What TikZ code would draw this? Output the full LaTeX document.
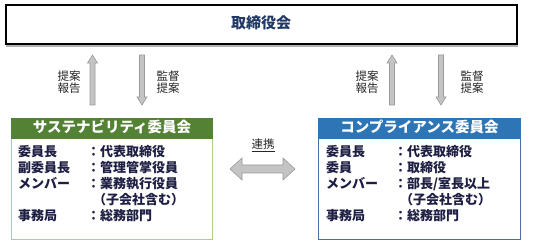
\documentclass[tikz,border=0pt]{standalone}
\usepackage{fontspec}
\setmainfont{Noto Sans CJK JP}
\usetikzlibrary{calc}
\definecolor{navy}{HTML}{1F3864}
\definecolor{bodytxt}{HTML}{1E1E44}
\definecolor{greenhead}{HTML}{548235}
\definecolor{greenline}{HTML}{A9D18E}
\definecolor{bluehead}{HTML}{2E75B6}
\definecolor{blueline}{HTML}{4A6FA0}
\definecolor{arrowfill}{HTML}{C4C4C4}
\definecolor{arrowline}{HTML}{9A9A9A}
\begin{document}
\begin{tikzpicture}[x=1pt,y=-1pt,
  txt/.style={inner sep=0pt,text height=0.88em,text depth=0.12em,font=\fontsize{13}{14}\selectfont\bfseries,text=bodytxt,anchor=west},
  lbl/.style={inner sep=0pt,align=center,font=\fontsize{11.5}{12.5}\selectfont,text=black!85},
  head/.style={inner sep=0pt,text height=0.88em,text depth=0.12em,font=\fontsize{14.5}{16}\selectfont\bfseries,text=white},
  blockarrow/.style={fill=arrowfill,draw=arrowline,line width=0.6pt,line join=miter}]
\useasboundingbox (0,0) rectangle (533,243);
% top box
\fill[black!30] (6,6) rectangle (518,47);
\node[draw=black,line width=2pt,fill=white,minimum width=511pt,minimum height=39pt,inner sep=0pt] (board) at (261,25) {};
\node[head,text=navy,font=\fontsize{15}{17}\selectfont\bfseries] (boardtxt) at (board.center) {取締役会};
% left committee
\node[draw=greenline,line width=1pt,minimum width=201pt,minimum height=121pt,inner sep=0pt,anchor=north west] (sus) at (11,118) {};
\fill[greenhead] (sus.north west) rectangle ($(sus.north east)+(0,21)$);
\node[head] (sushead) at ($(sus.north)+(0,10.5)$) {サステナビリティ委員会};
% right committee
\node[draw=blueline,line width=1pt,minimum width=202pt,minimum height=121pt,inner sep=0pt,anchor=north west] (comp) at (318,118) {};
\fill[bluehead] (comp.north west) rectangle ($(comp.north east)+(0,21)$);
\node[head] (comphead) at ($(comp.north)+(0,10.5)$) {コンプライアンス委員会};
% left body
\node[txt] (l1a) at (18,153) {委員長};
\node[txt] (l1b) at (87,153) {：代表取締役};
\node[txt] (l2a) at (18,169) {副委員長};
\node[txt] (l2b) at (87,169) {：管理管掌役員};
\node[txt] (l3a) at (18,185) {メンバー};
\node[txt] (l3b) at (87,185) {：業務執行役員};
\node[txt] (l4b) at (93,201) {（子会社含む）};
\node[txt] (l5a) at (18,217) {事務局};
\node[txt] (l5b) at (87,217) {：総務部門};
% right body
\node[txt] (r1a) at (326,153) {委員長};
\node[txt] (r1b) at (394,153) {：代表取締役};
\node[txt] (r2a) at (326,169) {委員};
\node[txt] (r2b) at (394,169) {：取締役};
\node[txt] (r3a) at (326,185) {メンバー};
\node[txt] (r3b) at (394,185) {：部長/室長以上};
\node[txt] (r4b) at (400,201) {（子会社含む）};
\node[txt] (r5a) at (326,217) {事務局};
\node[txt] (r5b) at (394,217) {：総務部門};
% vertical arrows left
\draw[blockarrow] (90,105) -- (90,63) -- (87.5,63) -- (92.5,55) -- (97.5,63) -- (95,63) -- (95,105) -- cycle;
\draw[blockarrow] (139.5,55) -- (139.5,97) -- (137,97) -- (142,105) -- (147,97) -- (144.5,97) -- (144.5,55) -- cycle;
\node[lbl] (lup) at (69,82) {提案\\[-0.5pt]報告};
\node[lbl] (ldown) at (168,82) {監督\\[-0.5pt]提案};
% vertical arrows right
\draw[blockarrow] (389.5,105) -- (389.5,63) -- (387,63) -- (392,55) -- (397,63) -- (394.5,63) -- (394.5,105) -- cycle;
\draw[blockarrow] (438.5,55) -- (438.5,97) -- (436,97) -- (441,105) -- (446,97) -- (443.5,97) -- (443.5,55) -- cycle;
\node[lbl] (rup) at (367,82) {提案\\[-0.5pt]報告};
\node[lbl] (rdown) at (472,82) {監督\\[-0.5pt]提案};
% double arrow
\draw[blockarrow] (230,169) -- (242,158) -- (242,165) -- (283,165) -- (283,158) -- (295,169) -- (283,180) -- (283,173) -- (242,173) -- (242,180) -- cycle;
\node[lbl,inner sep=0pt] (link) at (263,145) {\underline{連携}};
\end{tikzpicture}
\end{document}
